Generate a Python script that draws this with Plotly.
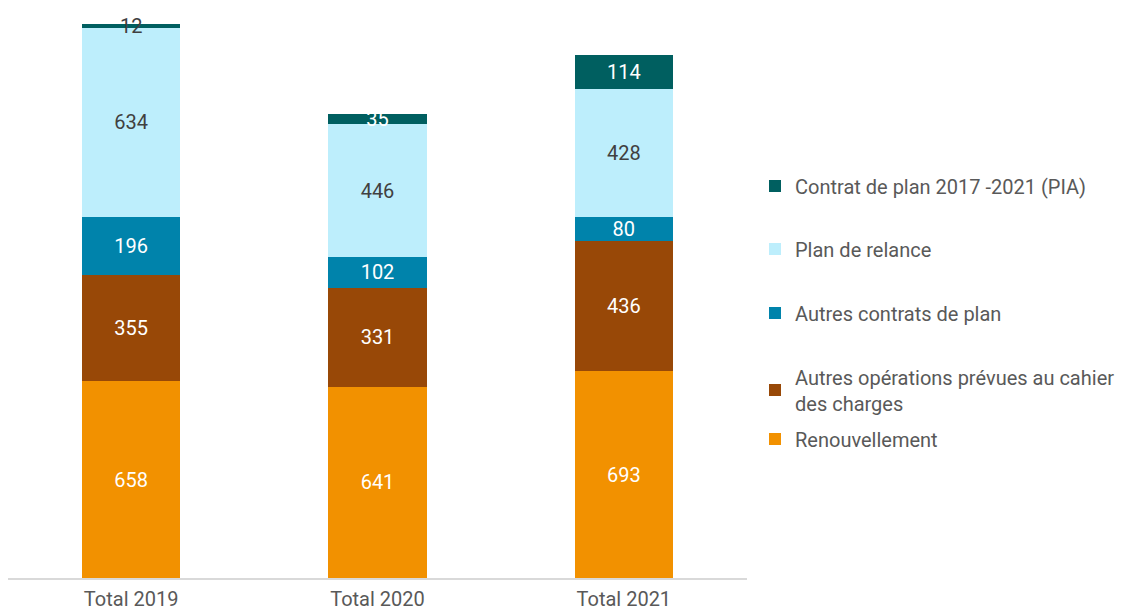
import plotly.graph_objects as go

categories = ["Total 2019", "Total 2020", "Total 2021"]

renouvellement = [658, 641, 693]
autres_operations = [355, 331, 436]
autres_contrats = [196, 102, 80]
plan_relance = [634, 446, 428]
contrat_pia = [12, 35, 114]

WHITE = "#ffffff"
DARK = "#404040"

# bottom to top, with colour, label colours and legend centre (px from top of window)
series = [
    ("Renouvellement", renouvellement, "#f29100", [WHITE] * 3, 439),
    ("Autres opérations prévues au cahier<br>des charges", autres_operations, "#984807", [WHITE] * 3, 390),
    ("Autres contrats de plan", autres_contrats, "#0083ab", [WHITE] * 3, 313),
    ("Plan de relance", plan_relance, "#bdeefc", [DARK] * 3, 249),
    ("Contrat de plan 2017 -2021 (PIA)", contrat_pia, "#005f60", [DARK, WHITE, WHITE], 186),
]

# page body has an 8px margin, so the figure is drawn 8px smaller
PAD = 8
W, H = 1148 - PAD, 614 - PAD
fig = go.Figure()
layout_legends = {}
for i, (name, vals, color, tcolors, ly) in enumerate(series):
    key = f"legend{i + 2}"
    fig.add_trace(go.Bar(
        x=categories, y=vals, name=name,
        marker=dict(color=color, line=dict(width=0)),
        text=[str(v) for v in vals],
        textposition="inside",
        insidetextanchor="middle",
        textangle=0,
        cliponaxis=False,
        textfont=dict(family="Roboto", size=20, color=tcolors),
        legend=key,
    ))
    layout_legends[key] = dict(
        xref="container", yref="container",
        x=(755 - PAD) / W, y=1 - (ly - PAD) / H, xanchor="left", yanchor="middle",
        font=dict(family="Roboto", size=20, color="#595959"),
        bgcolor="rgba(0,0,0,0)", itemwidth=30,
    )

fig.update_layout(
    barmode="stack",
    bargap=0.6,
    width=W, height=H,
    margin=dict(l=0, r=W - 739, t=12, b=H - 570, autoexpand=False),
    plot_bgcolor="white", paper_bgcolor="white",
    uniformtext=dict(minsize=20, mode="show"),
    showlegend=True,
    xaxis=dict(
        showline=True, linecolor="#d9d9d9", linewidth=2,
        showgrid=False, ticks="", ticklabelstandoff=2, automargin=False,
        tickfont=dict(family="Roboto", size=20, color="#595959"),
    ),
    yaxis=dict(visible=False, automargin=False, range=[0, 558 / (554 / 1855)]),
    **layout_legends,
)

fig.write_html("out.html")
